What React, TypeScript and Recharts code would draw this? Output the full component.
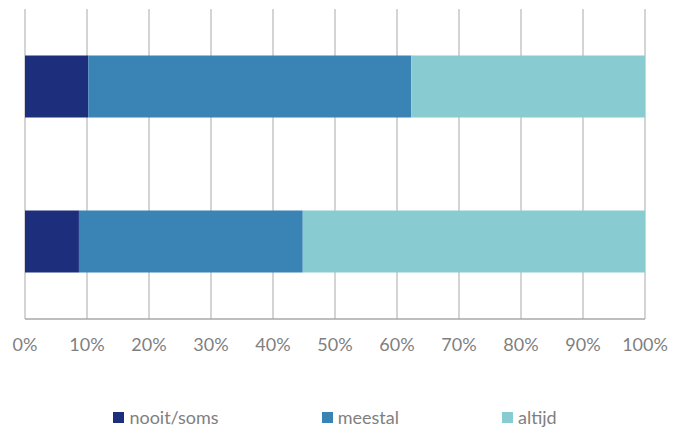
import { BarChart, Bar, XAxis, YAxis, CartesianGrid, Legend } from "recharts";

const groups = ["A", "B"];
const nooitSoms = [10.2, 8.7];
const meestal = [52.1, 36.1];
const altijd = [37.7, 55.2];
const ticks = [0, 10, 20, 30, 40, 50, 60, 70, 80, 90, 100];

const series = [
  { key: "nooit", name: "nooit/soms", color: "#1c2e7c" },
  { key: "meestal", name: "meestal", color: "#3984b5" },
  { key: "altijd", name: "altijd", color: "#88cbd0" },
];

const data = groups.map((g, i) => ({
  group: g,
  nooit: nooitSoms[i],
  meestal: meestal[i],
  altijd: altijd[i],
}));

function LegendBox() {
  return (
    <div
      style={{
        display: "flex",
        justifyContent: "center",
        alignItems: "center",
        fontFamily: "Lato, sans-serif",
        fontSize: 18,
        color: "#7f7f7f",
        height: 30,
      }}
    >
      {series.map((s, i) => (
        <div
          key={s.key}
          style={{
            display: "flex",
            alignItems: "center",
            marginRight: i < series.length - 1 ? 103 : 0,
          }}
        >
          <span
            style={{
              display: "inline-block",
              width: 11,
              height: 11,
              background: s.color,
              marginRight: 5,
            }}
          />
          <span>{s.name}</span>
        </div>
      ))}
    </div>
  );
}

export default function App() {
  return (
    <div style={{ position: "absolute", left: 0, top: 0, width: 685, height: 432, background: "#fff" }}>
      <BarChart
        width={685}
        height={432}
        data={data}
        layout="vertical"
        margin={{ top: 9, right: 40, left: 25, bottom: 0 }}
        barCategoryGap="30%"
      >
        <CartesianGrid horizontal={false} stroke="#c6c6c6" strokeWidth={1.5} />
        <XAxis
          type="number"
          domain={[0, 100]}
          ticks={ticks}
          tickFormatter={(v) => `${v}%`}
          tickLine={false}
          tickMargin={13}
          height={83}
          axisLine={{ stroke: "#a9a9a9", strokeWidth: 1.5 }}
          tick={{ fill: "#7f7f7f", fontSize: 18, fontFamily: "Lato, sans-serif" }}
          interval={0}
        />
        <YAxis type="category" dataKey="group" hide />
        <Legend verticalAlign="bottom" height={30} content={() => <LegendBox />} />
        {series.map((s) => (
          <Bar
            key={s.key}
            dataKey={s.key}
            name={s.name}
            stackId="a"
            fill={s.color}
            isAnimationActive={false}
          />
        ))}
      </BarChart>
    </div>
  );
}
